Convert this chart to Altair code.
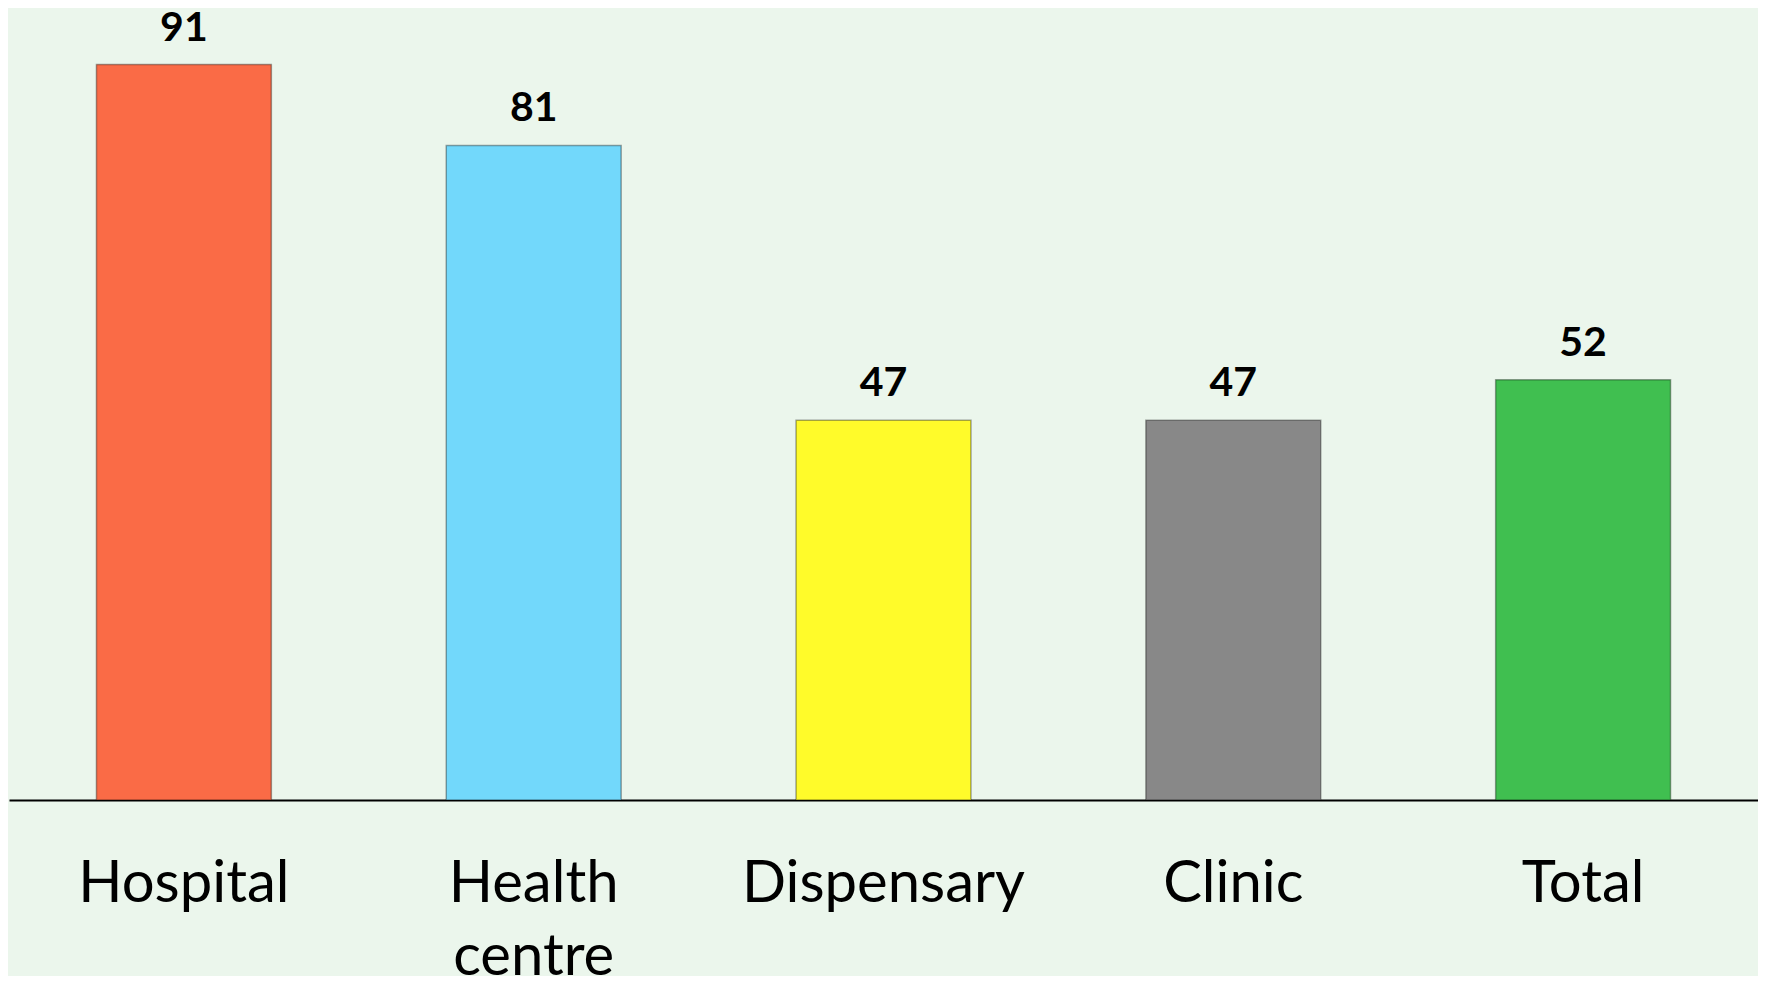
import altair as alt
import pandas as pd

categories = ["Hospital", "Health centre", "Dispensary", "Clinic", "Total"]
values = [91, 81, 47, 47, 52]
colors = ["#FA6B46", "#72D8FB", "#FFFB2A", "#888888", "#40BF50"]

df = pd.DataFrame({"category": categories, "value": values})

x = alt.X(
    "category:N",
    sort=categories,
    scale=alt.Scale(paddingInner=0.5, paddingOuter=0.25),
    axis=alt.Axis(
        title=None,
        labelAngle=0,
        ticks=False,
        domainColor="black",
        domainWidth=2,
        labelFont="Lato",
        labelFontSize=58,
        labelColor="black",
        labelBaseline="alphabetic",
        labelPadding=101,
        labelLineHeight=73,
        labelLimit=0,
        labelExpr="split(datum.label, ' ')",
    ),
)
y = alt.Y("value:Q", scale=alt.Scale(domain=[0, 98], nice=False), axis=None)

bars = alt.Chart(df).mark_bar(strokeWidth=1.5, strokeOpacity=0.35, stroke="black").encode(
    x=x,
    y=y,
    color=alt.Color("category:N", scale=alt.Scale(domain=categories, range=colors), legend=None),
)

text = alt.Chart(df).mark_text(
    baseline="alphabetic", dy=-24, font="Lato", fontSize=41, fontWeight="bold", color="black"
).encode(x=x, y=y, text="value:Q")

chart = (
    alt.layer(bars, text)
    .properties(
        width=1749,
        height=792,
        padding={"left": 1, "top": 0, "right": 0, "bottom": 176},
        autosize=alt.AutoSizeParams(type="none"),
        background="#EBF6EC",
    )
    .configure_view(stroke=None)
)

chart.save("out.html", embed_options={"renderer": "svg", "actions": False})
